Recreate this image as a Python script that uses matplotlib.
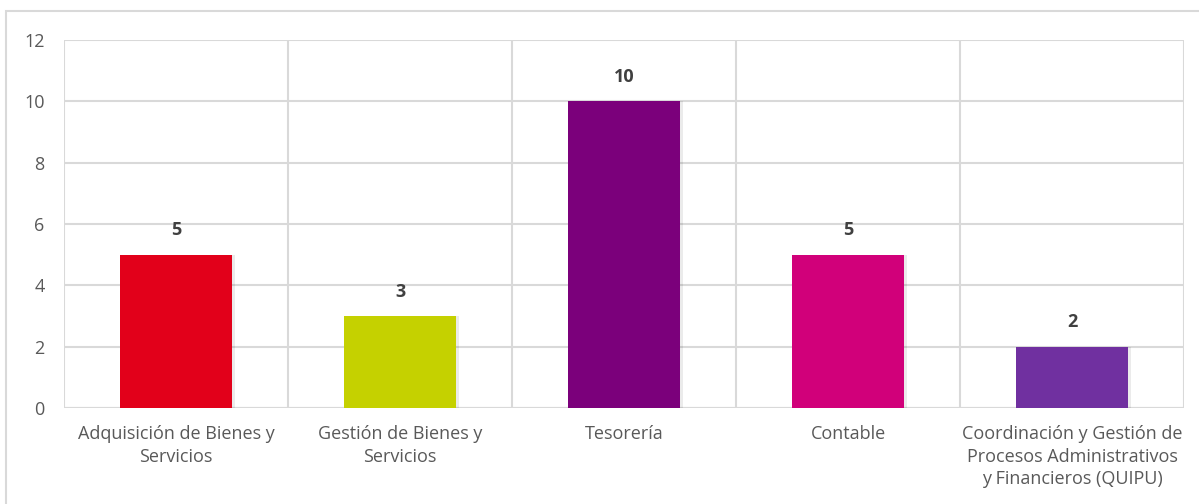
import matplotlib
matplotlib.use("Agg")
import matplotlib.pyplot as plt
from matplotlib.patches import Rectangle

categories = ["Adquisición de Bienes y\nServicios", "Gestión de Bienes y\nServicios", "Tesorería",
              "Contable", "Coordinación y Gestión de\nProcesos Administrativos\ny Financieros (QUIPU)"]
values = [5, 3, 10, 5, 2]
colors = ["#E2001A", "#C5D100", "#7B007B", "#D1007A", "#7030A0"]
yticks = [0, 2, 4, 6, 8, 10, 12]

plt.rcParams['font.family'] = ['Open Sans', 'DejaVu Sans']

fig = plt.figure(figsize=(11.99, 5.04), dpi=100)
ax = fig.add_axes([64/1199, 96/504, 1120/1199, 368/504])

grid_c = "#D9D9D9"
n = len(categories)
x = list(range(n))
# subtle shadow
for xi, v in zip(x, values):
    ax.bar(xi + 0.012, v, width=0.5, color="#000000", alpha=0.08, zorder=2)
bars = ax.bar(x, values, width=0.5, color=colors, zorder=3)

ax.set_xlim(-0.5, n - 0.5)
ax.set_ylim(0, 12)
ax.set_yticks(yticks)
ax.set_yticklabels([str(t) for t in yticks])
ax.set_xticks(x)
ax.set_xticklabels(categories, linespacing=1.35)
ax.yaxis.grid(True, color=grid_c, linewidth=1.5, zorder=0)
for b in range(n + 1):
    ax.axvline(b - 0.5, color=grid_c, linewidth=1.5, zorder=0)
for s in ax.spines.values():
    s.set_visible(False)
ax.axhline(0, color=grid_c, linewidth=1.5, zorder=1)
ax.tick_params(axis='both', length=0, colors="#595959", labelsize=13)
ax.tick_params(axis='y', pad=14)
ax.tick_params(axis='x', pad=12)

for xi, v in zip(x, values):
    ax.annotate(str(v), (xi, v), xytext=(0, 11), textcoords="offset points",
                ha="center", va="bottom", fontsize=13, fontweight="bold", color="#404040")

fig.patches.append(Rectangle((6/1199, -0.1), 1.2, (504 - 11)/504 + 0.1, transform=fig.transFigure,
                             fill=False, edgecolor="#D9D9D9", linewidth=1.5))

fig.savefig("out.png", dpi=100)
